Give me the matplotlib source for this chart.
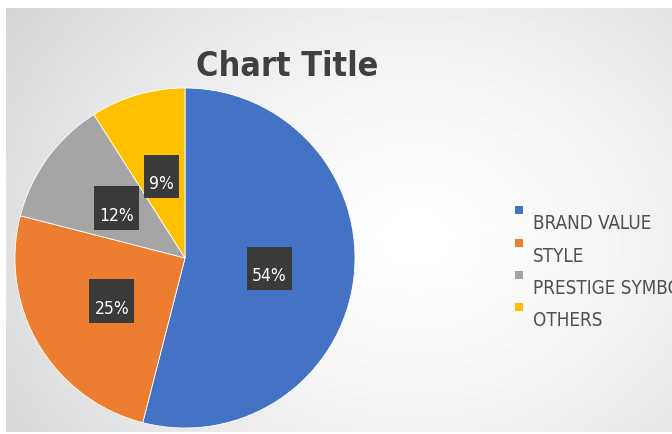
import matplotlib.pyplot as plt
import numpy as np

labels = ['BRAND VALUE', 'STYLE', 'PRESTIGE SYMBOL', 'OTHERS']
shares = [54, 25, 12, 9]
colors = ['#4472C4', '#ED7D31', '#A5A5A5', '#FFC000']

W, H = 672, 434
fig = plt.figure(figsize=(W / 100, H / 100), dpi=100)
fig.patch.set_facecolor('white')

# radial grey-white background of the screenshot
bg = fig.add_axes([6 / W, 2 / H, 1 - 6 / W, 1 - 10 / H])
yy, xx = np.mgrid[0:426, 0:666]
d = np.sqrt(((xx - 410) / 470.0) ** 2 + ((yy - 230) / 380.0) ** 2)
shade = np.clip(1.0 - 0.15 * d ** 1.5, 0.82, 1.0)
bg.imshow(shade, cmap='gray', vmin=0, vmax=1, aspect='auto', interpolation='bilinear')
bg.axis('off')

narrow = dict(family='DejaVu Sans', fontstretch='condensed')

# pie: centre (185, 258) px, radius 170 px
cx, cy, r = 185, 258, 170
ax = fig.add_axes([(cx - r) / W, (H - cy - r) / H, 2 * r / W, 2 * r / H])
wedges, texts, autotexts = ax.pie(
    shares, colors=colors, startangle=90, counterclock=False,
    autopct=lambda p: ' \n%d%%' % round(p), pctdistance=0.5,
    wedgeprops=dict(linewidth=0.6, edgecolor='white'),
    textprops=dict(color='white', fontsize=12.5, **narrow))
for t in autotexts:
    t.set_linespacing(0.8)
    t.set_bbox(dict(boxstyle='square,pad=0.3', facecolor='#3a3a3a', edgecolor='none'))
ax.set_xlim(-1, 1)
ax.set_ylim(-1, 1)
ax.axis('off')

fig.text(287 / W, 1 - 67 / H, 'Chart Title', ha='center', va='center',
         fontsize=24.5, color='#404040', fontweight='bold', **narrow)

# legend: small square above-left of each label (last label runs off the edge)
ys = [210, 243, 275, 307]
for lab, col, y in zip(labels, colors, ys):
    fig.patches.append(plt.Rectangle((515 / W, 1 - (y + 4) / H), 8 / W, 8 / H,
                                     transform=fig.transFigure, facecolor=col,
                                     edgecolor='none'))
    fig.text(533 / W, 1 - (y + 13) / H, lab, ha='left', va='center', fontsize=13.5,
             color='#505050', **narrow)

fig.savefig('out.png', dpi=100)
